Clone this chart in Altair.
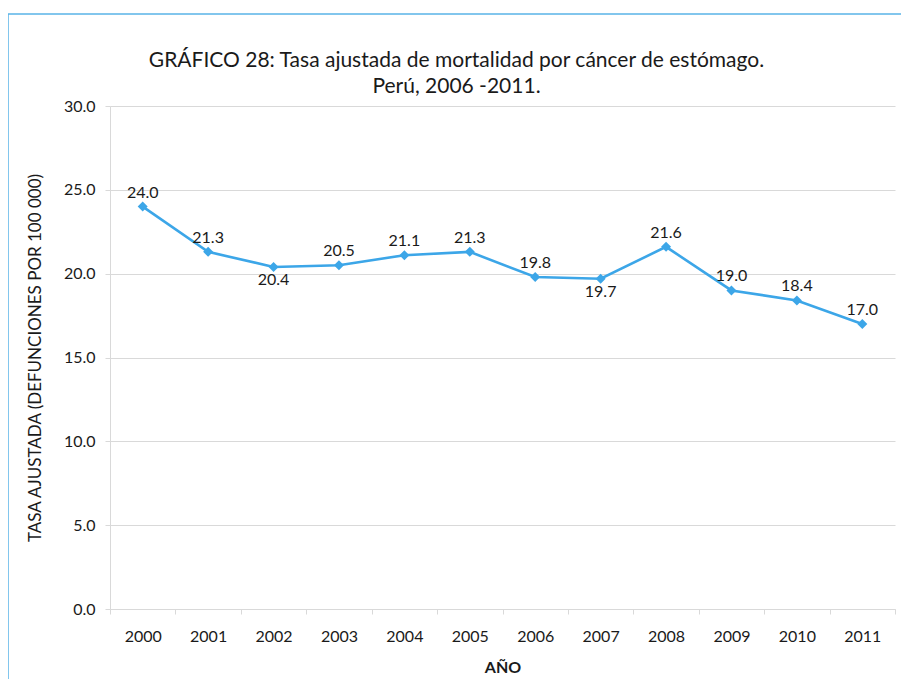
import altair as alt
import pandas as pd

years = ["2000", "2001", "2002", "2003", "2004", "2005", "2006", "2007", "2008", "2009", "2010", "2011"]
rates = [24.0, 21.3, 20.4, 20.5, 21.1, 21.3, 19.8, 19.7, 21.6, 19.0, 18.4, 17.0]
label_side = ["above", "above", "below", "above", "above", "above", "above", "below", "above", "above", "above", "above"]
y_ticks = [0, 5, 10, 15, 20, 25, 30]

title_lines = ["GRÁFICO 28: Tasa ajustada de mortalidad por cáncer de estómago.", "Perú, 2006 -2011."]
y_title = "TASA AJUSTADA (DEFUNCIONES POR 100 000)"
x_title = "AÑO"

df = pd.DataFrame({"year": years, "rate": rates, "side": label_side})

FONT = "Lato"
LINE = "#3CA6E8"
GRID = "#D9D9D9"
TEXT = "#1a1a1a"

x_enc = alt.X("year:N", sort=years, title=x_title,
              scale=alt.Scale(paddingInner=0, paddingOuter=0),
              axis=alt.Axis(labelAngle=0, tickBand="extent", tickSize=5, labelPadding=14,
                            titlePadding=15, titleFontWeight="bold", grid=False))
y_enc = alt.Y("rate:Q", title=y_title,
              scale=alt.Scale(domain=[0, 30]),
              axis=alt.Axis(values=y_ticks, format=".1f", tickSize=5, labelPadding=10,
                            titlePadding=19, titleFontWeight="normal", grid=True))

base = alt.Chart(df).encode(x=x_enc, y=y_enc)

line = base.mark_line(color=LINE, strokeWidth=2.6)
points = base.mark_point(shape="diamond", size=100, filled=True, color=LINE, opacity=1)

above = base.transform_filter(alt.datum.side == "above").mark_text(
    font=FONT, fontSize=16, color=TEXT, baseline="alphabetic", dy=-9
).encode(text=alt.Text("rate:Q", format=".1f"))
below = base.transform_filter(alt.datum.side == "below").mark_text(
    font=FONT, fontSize=16, color=TEXT, baseline="alphabetic", dy=18
).encode(text=alt.Text("rate:Q", format=".1f"))

frame = alt.Chart(alt.Data(values=[{"f": 1}])).mark_rect(
    fillOpacity=0, stroke="#5AB4E8", strokeWidth=1.5
).encode(x=alt.value(-102), x2=alt.value(1200), y=alt.value(-92), y2=alt.value(1000))

chart = alt.layer(frame, line, points, above, below).properties(
    width=785, height=503,
    title=alt.TitleParams(title_lines, anchor="middle", frame="group", dx=-46,
                          fontSize=21, font=FONT, fontWeight="normal", color=TEXT,
                          lineHeight=26, baseline="bottom", offset=-105),
    autosize=alt.AutoSizeParams(type="none"),
    padding={"left": 102, "top": 98, "right": 6, "bottom": 70},
).configure_view(stroke=None).configure_axis(
    labelFont=FONT, titleFont=FONT, labelFontSize=16, titleFontSize=17,
    labelColor=TEXT, titleColor=TEXT, gridColor=GRID, domainColor=GRID, tickColor=GRID,
    gridWidth=1, domainWidth=1, tickWidth=1
).configure_axisX(titleFontSize=16)

chart.save("out.html", embed_options={"renderer": "svg", "actions": False})
